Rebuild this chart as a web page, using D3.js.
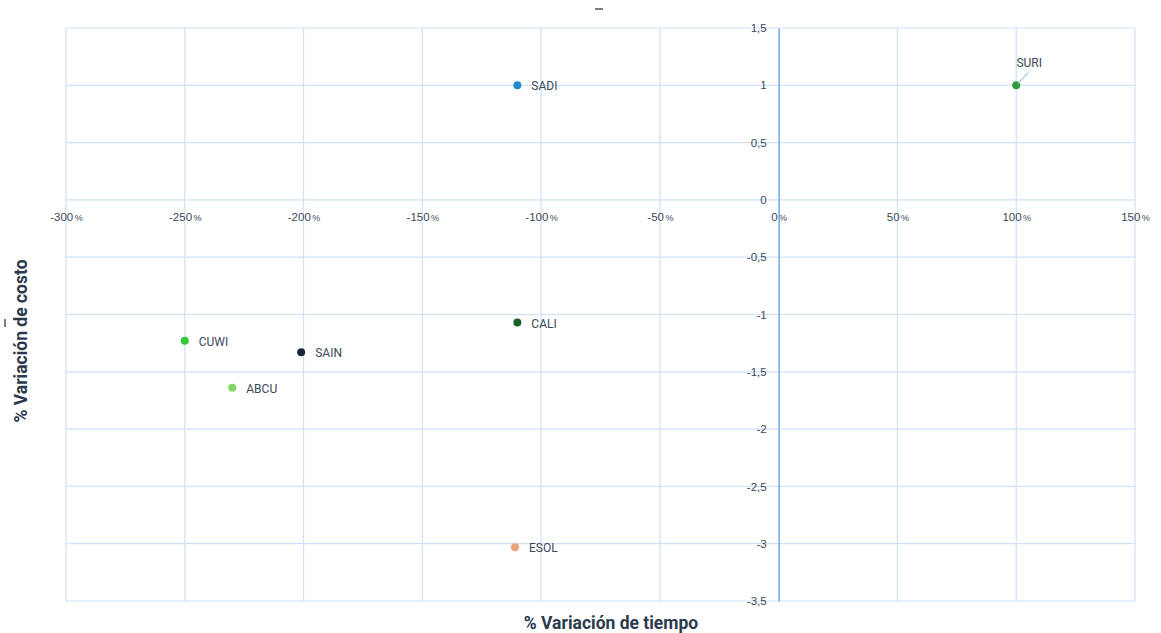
<!DOCTYPE html>
<html>
<head>
<meta charset="utf-8">
<script src="https://cdn.jsdelivr.net/npm/d3@7"></script>
<style>
  body { margin: 0; background: #fff; }
  svg { font-family: Roboto, "Liberation Sans", sans-serif; }
</style>
</head>
<body>
<div id="chart"></div>
<script>
// Data
const names = ["SADI", "SURI", "CALI", "CUWI", "SAIN", "ABCU", "ESOL"];
const timeVar = [-110, 100, -110, -250, -201, -230, -111];
const costVar = [1, 1, -1.07, -1.23, -1.33, -1.64, -3.03];
const pointColors = ["#1f8bcb", "#2f9e3a", "#1d5e26", "#36c737", "#17283a", "#86d666", "#f2a27b"];
const xTicks = [-300, -250, -200, -150, -100, -50, 0, 50, 100, 150];
const yTicks = [1.5, 1, 0.5, 0, -0.5, -1, -1.5, -2, -2.5, -3, -3.5];

const width = 1161, height = 633;
const margin = { top: 28, right: 26, bottom: 32, left: 66 };
const chartWidth = width - margin.left - margin.right;
const chartHeight = height - margin.top - margin.bottom;

const svg = d3.select("#chart")
  .append("svg")
  .attr("width", width)
  .attr("height", height);

const g = svg.append("g")
  .attr("transform", `translate(${margin.left},${margin.top})`);

const x = d3.scaleLinear().domain([-300, 150]).range([0, chartWidth]);
const y = d3.scaleLinear().domain([-3.5, 1.5]).range([chartHeight, 0]);

const gridColor = "#cfe1f5";
const labelColor = "#3b4858";

// Grid lines
g.append("g")
  .selectAll("line")
  .data(xTicks)
  .join("line")
  .attr("x1", d => x(d)).attr("x2", d => x(d))
  .attr("y1", 0).attr("y2", chartHeight)
  .attr("stroke", gridColor)
  .attr("stroke-width", 1.2);

g.append("g")
  .selectAll("line")
  .data(yTicks)
  .join("line")
  .attr("x1", 0).attr("x2", chartWidth)
  .attr("y1", d => y(d)).attr("y2", d => y(d))
  .attr("stroke", gridColor)
  .attr("stroke-width", 1.2);

// X axis labels (sit below the zero line)
const xAxis = g.append("g")
  .attr("transform", `translate(0,${y(0)})`)
  .call(d3.axisBottom(x).tickValues(xTicks).tickSize(0).tickPadding(13).tickFormat(d => d));
xAxis.select(".domain").remove();
xAxis.selectAll("text")
  .attr("fill", labelColor)
  .style("font-size", "11.5px")
  .each(function(d) {
    const t = d3.select(this);
    t.text(null);
    t.append("tspan").text(d);
    t.append("tspan").text("%").style("font-size", "9px").attr("dx", 1.5);
  });

// Y axis at x = 0
const yAxis = g.append("g")
  .attr("transform", `translate(${x(0)},0)`)
  .call(d3.axisLeft(y).tickValues(yTicks).tickSize(0).tickPadding(12)
    .tickFormat(d => String(d).replace(".", ",")));
yAxis.select(".domain")
  .attr("stroke", "#6aa6e0")
  .attr("stroke-width", 1.3);
yAxis.selectAll("text")
  .attr("fill", labelColor)
  .style("font-size", "11.5px");

// Points
g.selectAll("circle.pt")
  .data(names)
  .join("circle")
  .attr("class", "pt")
  .attr("cx", (d, i) => x(timeVar[i]))
  .attr("cy", (d, i) => y(costVar[i]))
  .attr("r", 4)
  .attr("fill", (d, i) => pointColors[i]);

// Labels
g.selectAll("text.lbl")
  .data(names)
  .join("text")
  .attr("class", "lbl")
  .attr("x", (d, i) => d === "SURI" ? x(timeVar[i]) + 13 : x(timeVar[i]) + 14)
  .attr("y", (d, i) => d === "SURI" ? y(costVar[i]) - 18 : y(costVar[i]) + 5)
  .attr("text-anchor", d => d === "SURI" ? "middle" : "start")
  .attr("fill", labelColor)
  .style("font-size", "12px")
  .text(d => d);

// Leader line for SURI
const si = names.indexOf("SURI");
g.append("line")
  .attr("x1", x(timeVar[si]) + 2).attr("y1", y(costVar[si]) - 2)
  .attr("x2", x(timeVar[si]) + 12).attr("y2", y(costVar[si]) - 13)
  .attr("stroke", "#9fc4ea")
  .attr("stroke-width", 1.2);

// Axis titles
svg.append("text")
  .attr("x", 611)
  .attr("y", 629)
  .attr("text-anchor", "middle")
  .attr("fill", "#2b3a4c")
  .style("font-size", "17.5px")
  .style("font-weight", "bold")
  .text("% Variación de tiempo");

svg.append("text")
  .attr("transform", "translate(27,341) rotate(-90)")
  .attr("text-anchor", "middle")
  .attr("fill", "#2b3a4c")
  .style("font-size", "17.5px")
  .style("font-weight", "bold")
  .text("% Variación de costo");

// Empty title placeholders
svg.append("line")
  .attr("x1", 595).attr("x2", 603).attr("y1", 9).attr("y2", 9)
  .attr("stroke", "#555").attr("stroke-width", 1.5);
svg.append("line")
  .attr("x1", 5).attr("x2", 5).attr("y1", 319).attr("y2", 327)
  .attr("stroke", "#555").attr("stroke-width", 1.5);
</script>
</body>
</html>
